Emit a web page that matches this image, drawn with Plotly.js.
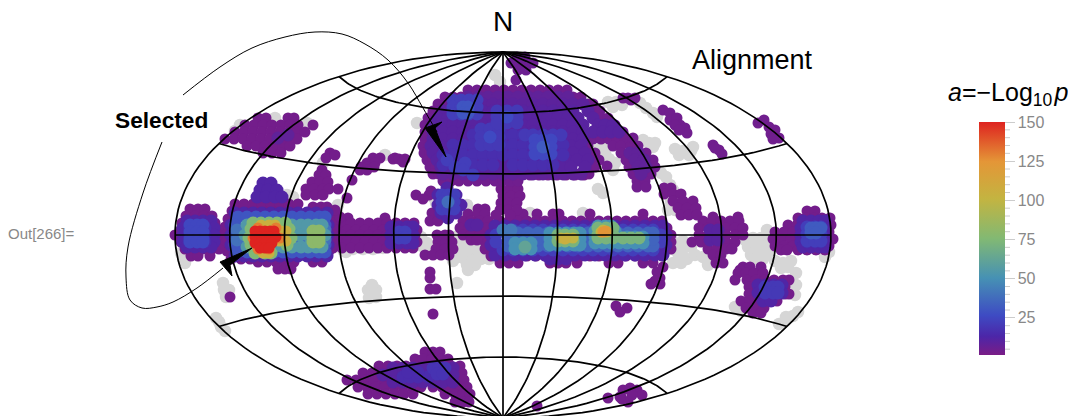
<!DOCTYPE html>
<html><head><meta charset="utf-8">
<script src="https://cdn.plot.ly/plotly-3.0.1.min.js"></script>
<style>html,body{margin:0;padding:0;background:#fff}</style></head>
<body><div id="chart" style="width:1068px;height:416px"></div>
<script>
// Sky positions are in map-plane units (centre of the map = 0,0).
// Rows: [planeY, significance a, [planeX ...]]
const tickValues = [25,50,75,100,125,150];
const minorTickValues = [5,10,15,20,30,35,40,45,55,60,65,70,80,85,90,95,105,110,115,120,130,135,140,145];
const aMin = 1.3, aMax = 150;

const unselected = [[-88,5],[-82,-2],[-76,-8],[-85,-10],[-78,-14],[-70,-18],[-47,-2],[-40,-3],[-32,-5],[-24,-3],[-16,-4],[-45,-9],[-37,-10],[-29,-11],[-21,-11],[-13,-11],[-6,-8],[-40,-17],[-32,-18],[-24,-18],[-16,-18],[-8,-15],[-38,-24],[-30,-26],[-22,-24],[-14,-24],[-35,-35],[-28,-30],[-46,-48],[-36,-30],[-42,-22],[-50,-26],
[-131,-58],[-135,-55],[-127,-55],[-134,-63],[-127,-62],[-131,-50],[-280,-48],[-279,-55],[-277,-62],[-274,-55],[-284,-87],[-282,-92],[-278,-96],[-287,-83],[-320,-22],[-318,-28],[-322,-18],
[-170,16],[-168,10],[-166,22],[-172,4],[-157,-17],[-150,-14],[-143,-12],[-160,-15],[-140,-14],[-130,-14],[-120,-13],
[172,-8],[180,-6],[172,-15],[180,-14],[188,-12],[176,-22],[184,-24],[192,-20],[170,-28],[178,-28],[205,-30],[200,-22],
[242,-5],[250,-3],[258,-3],[266,-5],[245,-12],[253,-10],[261,-12],[269,-12],[248,-20],[256,-18],[264,-19],[252,-24],[260,-24],[272,-26],[280,-28],[288,-26],[285,-32],[278,-33],[322,-22],[326,-17],[282,-86],[290,-81],[276,-89],[295,-77],[283,-82],[232,-72],[238,-76],[293,-38],[293,-50],[292,-60],
[105,133],[113,133],[119,130],[110,128],[137,132],[143,127],[150,122],[154,118],[114,105],[120,100],[126,95],[133,90],[140,95],[146,92],[152,92],[150,88],[172,86],[180,84],[188,84],[176,80],[186,80],[190,88],[95,85],[102,82],[106,76],[108,70],[110,65],[112,72],[100,90],[95,46],[100,42],[158,62],[163,58],[167,50],[170,45],[170,30],[172,25],[170,36],
[-86,112],[-76,102],[-228,117],[-263,110],[-268,104],[-196,112],[-118,80],[-180,72],[-170,25],[-165,30],[-216,40],[-210,38],[-70,38],[-67,32],[-33,23],[-28,20],[-36,30],[-3,153],[-1,142],[-8,160],[-38,15],[-36,10],[27,22],[80,22],[165,25],[168,33],[264,5]];

const bandEast = [
[21,3,[10,20,34,50,56,87,140]],
[14,3,[-3,6,15,24,33,42,51,60,69,78,87,96,105,114,123,132,141,150,159]],
[7,3,[-14,-5,4,13,22,31,40,49,58,67,76,85,94,103,112,121,130,139,148,157,164]],
[0,3,[-18,-10,160,168]],[-7,3,[-18,-10,160,168]],[-14,3,[-18,-10,160,168]],
[-21,3,[-12,-3,6,15,24,33,42,51,60,69,78,87,96,105,114,123,132,141,150,159]],
[-28,3,[-3,6,15,47,55,63,74,106,115,140,150]],
[9,12,[-8,2,12,22,32,42,52,62,72,82,92,102,112,122,132,142,152,160]],
[-20,12,[-8,2,12,22,32,42,52,62,72,82,92,102,112,122,132,142,152,160]],
[-24,12,[47,55,63]],
[0,12,[-12,163]],[-10,12,[-12,163]],
[5,22,[0,10,20,30,40,50,60,70,80,90,100,110,120,130,140,150]],
[-15,22,[0,10,20,30,40,50,60,70,80,90,100,110,120,130,140,150]],
[0,22,[-7,158]],[-7,22,[-7,158]],
[2,35,[5,15,25,35,45,55,65,75,85,95,105,115,125,135,145,150]],
[-11,35,[5,15,25,35,45,55,65,75,85,95,105,115,125,135,145,150]],
[-4,35,[5,15,25,35,45,55,65,75,85,95,105,115,125,135,145,150]],
[5,42,[0,8]],
[-8,50,[12,20,28]],[-14,50,[12,20,28]],
[2,50,[47,55,63,71,77]],[-4,50,[47,55,63,71,77]],[-10,50,[47,55,63,71,77]],
[-8,50,[92,100,108,116,124,132,140]],[-2,50,[92,100,108,116,124,132,140]],[4,50,[92,100,108,112]],[9,50,[95,102,108]],
[-12,62,[22]],
[0,72,[55,62,70]],[-6,72,[55,62,70]],
[7,72,[95,103,110]],[0,72,[95,103,110]],[-3,72,[95,103,110,120,128,136]],
[-3,100,[58,64,70]],[-4,105,[62]],[3,100,[98,104]],[5,100,[100]],[3,125,[100]],[4,122,[103]]];

const bandWest = [
[24,3,[-271,-262,-253,-244,-235,-226,-217,-208,-190,-182,-176]],
[31,3,[-268,-259,-250,-241,-232,-223,-214,-205]],
[16,3,[-275,-176,-168]],[8,3,[-278,-174]],[0,3,[-278,-174]],[-8,3,[-278,-174]],[-16,3,[-276,-174]],
[-24,3,[-272,-262,-253]],
[-27,3,[-245,-236,-227,-218,-209,-190,-181]],[-34,3,[-225,-218,-212]],
[22,12,[-268,-259,-250,-241,-232,-223,-214,-205,-196,-187,-176]],
[-21,12,[-268,-259,-250,-241,-232,-223,-214,-205,-196,-187,-176]],
[10,12,[-272,-175]],[0,12,[-272,-175]],[-10,12,[-272,-175]],
[52,12,[-240,-232]],[45,12,[-243,-235,-226]],[38,12,[-246,-237,-228,-221]],
[18,30,[-265,-256,-247,-238,-229,-220,-211,-202,-193,-184,-178]],
[-17,30,[-265,-256,-247,-238,-229,-220,-211,-202,-193,-184,-178]],
[10,30,[-268,-178]],[0,30,[-268,-178]],[-10,30,[-268,-178]],
[5,40,[-266,-258,-250,-210,-202,-194,-186,-178]],[-5,40,[-266,-258,-250,-210,-202,-194,-186,-178]],
[10,55,[-256,-247,-238,-229,-220,-211,-202,-195,-187,-181]],
[-12,55,[-256,-247,-238,-229,-220,-211,-202,-195,-187,-181]],
[0,55,[-258,-203,-195,-178]],
[12,75,[-250,-242,-234,-226,-218]],[-18,75,[-248,-238,-232]],[-3,75,[-254,-212]],[6,75,[-252,-214]],[-10,75,[-252,-216]],
[-3,80,[-190,-184]],[4,80,[-190,-184]],[-7,80,[-190,-184]],
[10,105,[-242,-234,-228]],[-18,105,[-240,-234]],[4,105,[-222,-217]],[-6,105,[-224,-217]],
[7,130,[-245,-227]],[-3,130,[-250,-223]],[-14,130,[-245,-234]],
[4,150,[-248,-243,-238,-233,-229]],[-2,150,[-248,-243,-238,-233,-227]],[-8,150,[-248,-243,-238,-231]],[-13,150,[-243,-238,-234]]];

const clusterFarWest = [
[26,3,[-313,-305,-298]],[19,3,[-317,-308,-299,-291]],[12,3,[-321,-312,-303,-295,-288]],[5,3,[-322,-285]],
[0,3,[-328,-320,-284,-278]],[-7,3,[-322,-284,-277]],[-14,3,[-318,-309,-300,-291,-284]],[-21,3,[-312,-305,-293]],
[14,12,[-316,-308,-300,-292]],[7,12,[-320,-289]],[0,12,[-320,-289]],[-7,12,[-320,-289]],[-12,12,[-316,-308,-300,-292]],
[7,15,[-314,-306,-298]],[0,15,[-314,-306,-298]],[-7,15,[-314,-306,-298]],
[10,25,[-313,-306,-300]],[3,25,[-313,-306,-300]],[-4,25,[-313,-306,-300]],[-7,25,[-313,-306,-300]]];

const bandMid = [
[17,3,[-155,-118]],
[12,3,[-170,-161,-152,-143,-134,-125,-116,-107,-98,-89]],
[5,3,[-165,-156,-147,-138,-129,-120,-111,-102,-93,-86]],
[0,3,[-170,-161,-152,-143,-134,-125,-116,-107,-98,-88]],
[-7,3,[-165,-156,-147,-138,-129,-120,-111,-102,-93,-86]],
[-13,3,[-170,-161,-152,-143,-134,-125,-116,-107,-98,-90]],
[8,12,[-112,-104,-96,-90]],[0,12,[-112,-104,-96,-90]],[-8,12,[-112,-104,-96,-90]],
[3,22,[-104,-98]],[-3,22,[-104,-98]],
[18,3,[-163]],[25,3,[-168]]];

const bandCentre = [
[22,3,[-71,-64]],[14,3,[-73,-65]],
[0,3,[-66,-58,-54]],[-7,3,[-65,-57,-51]],[-14,3,[-67,-58,-50]],[-20,3,[-78,-70,-62,-54]],
[26,3,[-25,-18]],[21,3,[-35,-25,-18]],[14,3,[-40,-32,-23,-15]],[7,3,[-43,-34,-25,-16]],[0,3,[-40,-32,-23]],[-5,3,[-32,-26]],
[10,10,[-32,-26]],
[46,3,[-2,7,15]],[39,3,[0,8,17]],[32,3,[-2,6,14]],[25,3,[-3,5,14]],[20,3,[-7,7]]];

const bandFarEast = [
[18,3,[210,235]],[14,3,[200,209,218,227,236]],[7,3,[196,205,214,223,232,240]],[0,3,[196,205,214,223,232,240]],
[-7,3,[189,198,205,214,223,232]],[-14,3,[205,214,223,229]],[-20,3,[210,218]],[-28,3,[213,220]],
[47,3,[161,168]],[41,3,[161,170,178]],[34,3,[170,180,190]],[27,3,[175,184,193]],[20,3,[178,186,194]],
[5,10,[207,215]],[-5,10,[207,215]],
[24,3,[304,312]],[17,3,[295,303,311,319,327]],[10,3,[285,294,303,312,321,328]],
[3,3,[272,281,290,299,308,317,326]],[-4,3,[270,279,288,297,306,315,324,330]],[-11,3,[272,281,290,299,308,317,326]],
[-15,3,[278,284,295,304,313,322]],
[14,12,[300,308,316,322]],[7,12,[298,322]],[0,12,[298,322]],[-7,12,[298,322]],[-12,12,[300,308,316,322]],
[7,15,[304,312,318]],[0,15,[304,312,318]],[-7,15,[304,312,318]],
[8,22,[304,312,318]],[1,22,[304,312,318]],[-6,22,[304,312,318]],
[7,32,[308,313,318]],[2,32,[308,313]]];

const patchSouthEast = [
[-32,3,[240,247,258]],[-35,3,[237]],[-38,3,[235,243,251,260]],[-45,3,[232,244,253,262,271,280,286]],
[-52,3,[246,255,264,273,282]],[-59,3,[246,255,264,273,282,286]],[-66,3,[238,247,256,265,274]],[-73,3,[243,252,261]],[-78,3,[250,258]],
[-50,12,[255,263,271,279]],[-58,12,[255,263,271,279]],[-66,12,[260,268]],
[-52,20,[262,270,275]],[-58,20,[262,270,275]]];

const patchSouth = [
[-117,3,[-78,-70,-63]],[-124,3,[-88,-80,-71,-62,-55]],
[-131,3,[-124,-115,-106,-97,-88,-79,-70,-61,-52,-43]],
[-138,3,[-140,-131,-122,-113,-104,-95,-86,-77,-68,-59,-50,-41]],
[-145,3,[-156,-147,-138,-129,-120,-111,-102,-93,-84,-75,-66,-57,-48,-39]],
[-152,3,[-145,-136,-127,-118,-109,-100,-91,-82,-70,-61,-52,-43,-36]],
[-159,3,[-135,-126,-117,-108,-99,-90,-58,-48,-40,-33]],[-167,3,[-48,-40,-34]],
[-133,10,[-110,-100,-90,-80,-70,-60,-50]],[-140,10,[-120,-110,-100,-90,-80,-70,-60,-50]],[-147,10,[-110,-100,-90,-80,-70,-60,-50]],
[-142,15,[-100,-93,-85,-75]],[-137,15,[-95,-85]],
[-133,18,[-70,-64,-58]],[-139,18,[-66,-60]]];

const patchesSmallSouth = [
[-163,3,[105]],[-164,3,[119]],[-167,3,[125]],[-155,3,[120,134]],[-153,3,[127]],[-160,3,[139,129]],[-162,3,[117]],[-171,3,[34]],
[-71,3,[113]],[-73,3,[124]],[-77,3,[117]],
[-43,3,[-73]],[-37,3,[-73]],[-54,3,[-73,-67]],[-79,3,[-70]],[-62,3,[-273]],
[-37,3,[154]],[-43,3,[157]],[-46,3,[152]],[-49,3,[148,157]],[-32,3,[160]]];

const patchNorthWest = [
[117,3,[-245,-237,-215,-209]],
[110,3,[-258,-249,-240,-231,-222,-213,-205,-190]],
[103,3,[-268,-259,-250,-241,-232,-223,-214,-205,-198]],
[96,3,[-278,-269,-260,-251,-242,-233,-224,-215,-206]],
[89,3,[-256,-247,-238,-229,-220,-213]],
[82,3,[-240,-231,-222]],
[97,8,[-225]],[100,8,[-215]]];

const patchesMidWest = [
[82,3,[-173]],[77,3,[-177]],[80,3,[-168]],[65,3,[-181]],
[60,3,[-184,-177]],[53,3,[-191,-183,-175]],[46,3,[-197,-189,-180,-174,-165]],[40,3,[-197,-188,-180]],
[37,3,[-156]],[55,3,[-151]],
[77,3,[-130,-123,-108]],[72,3,[-136,-128]],[68,3,[-142,-135,-129]],[65,3,[-143,-136]],
[76,3,[-110,-104,-98]],[73,3,[-100]],
[40,3,[-87,-74]],[36,3,[-80]],[44,3,[-72]],
[28,3,[-190,-182,-176]]];

const capEdge = [
[145,4,[-35,-26,-17,-8,1,10,19,28,37,46,55,64]],
[138,4,[-58,-50,-42,70,78]],[131,4,[-65,-58,85,90]],[124,4,[-70,-64,92,97]],[117,4,[-75,-70,98,105]],
[110,4,[-78,-72,104,112]],[103,4,[-78,-72,112,120]],[96,4,[-78,-72,84,90,98,106,114,122]],[89,4,[-80,-74,85]],
[82,4,[-79,-73,92]],[75,4,[-76,-70,96]],[68,4,[-73,-67,92]],[61,4,[-70,-64,86]],
[60,4,[27,36,45,54,63,72,81]],
[54,4,[-60,-52,-44,-35,-26,-17,-8,0,8,15]],
[69,4,[104]],
[89,4,[110,118,128,135]],[82,4,[118,126,135,143]],[75,4,[123,132,141,150]],[68,4,[126,134,143,152]],
[61,4,[130,139,148]],[54,4,[134,142]],[48,4,[134,143]],[97,4,[130]],
[178,5,[14,22]],[172,5,[8,15,24,30]],[165,5,[15,23]],[155,5,[13]],
[137,4,[120,125,132]],[135,4,[128]],
[125,4,[160]],[122,4,[167]],[115,4,[167]],[117,4,[174]],[110,4,[177,172]],[107,4,[182]],[102,4,[184]],[105,4,[176]],
[112,4,[255]],[115,4,[261]],[108,4,[266]],[105,4,[272]],[101,4,[268]],[97,4,[276]],[96,4,[270]],
[90,4,[210]],[85,4,[216]],[81,4,[219]],[87,4,[212]]];

const capInner = [
[138,8,[-35,-25,-15,-5,5,15,25,35,45,55,65]],
[131,9,[-50,-40,-30,-20,-10,0,10,20,30,40,50,60,70,80]],
[124,10,[-60,-50,-40,-30,-20,-10,0,10,20,30,40,50,60,70,85]],
[117,10,[-65,-55,-45,-35,-25,-15,-5,5,15,25,35,45,55,65,75,90]],
[110,10,[-70,-60,-50,-40,-30,-20,-10,0,10,20,30,40,50,60,70,80,95,102,110]],
[103,10,[-70,-60,-50,-40,-30,-20,-10,0,10,20,30,40,50,60,70,80,90,100,108,116]],
[96,10,[-70,-60,-50,-40,-30,-20,-10,0,10,20,30,40,50,60,70,80]],
[89,10,[-72,-62,-52,-42,-32,-22,-12,-2,8,18,28,38,48,58,68,78]],
[82,10,[-70,-60,-50,-40,-30,-20,-10,0,10,20,30,40,50,60,70,82]],
[75,10,[-66,-56,-46,-36,-26,-16,-6,4,14,24,34,44,54,64,74,85]],
[68,10,[-62,-52,-42,-32,-22,-12,-2,8,18,28,38,48,58,68,82]],
[61,8,[-60,-50,-40,-30,-20,-10,0,10,20,30,40,50,60,70,78]],
[82,8,[127,135]],[75,8,[132,141]],[68,8,[135,143]],[61,8,[138]],
[100,16,[-30,-20,-10,0,10,20,30,40,50]],
[90,16,[-50,-40,-30,-20,-10,0,10,20,30,40,50,60]],
[80,16,[-60,-50,-40,-30,-20,-10,0,10,20,30,40,50,60]],
[70,16,[-60,-50,-40,-30,-20,-10,10,20,30,40,50]],
[135,22,[-50,-42,-34,-26]],[128,22,[-50,-42,-34,-26]],[121,22,[-50,-42,-34,-26]],[128,30,[-40,-35]],[122,30,[-40,-35]],
[106,20,[-22,-13,-4]],[98,20,[-22,-13,-4]],[90,20,[-22,-13,-4]],[98,26,[-13]],
[100,20,[22,30,40,50,58]],[95,25,[32,40,48]],[88,25,[32,48]],[81,25,[32,40,48]],[88,32,[40]],
[124,20,[-6,4,14]],[118,20,[-6,14]],[112,20,[-6,4,14]],[118,26,[4]],
[75,22,[-56]],[68,22,[-48]],[72,22,[-38]],[65,22,[-40]],[60,22,[-30]],
[47,12,[-56]],[40,12,[-65,-47]],[30,12,[-65,-42]],[22,12,[-62,-47]],[17,12,[-55]],
[40,22,[-61,-55,-49]],[33,22,[-61,-49]],[26,22,[-61,-55,-49]],[33,38,[-55]]];

const significant = [bandEast,bandWest,clusterFarWest,bandMid,bandCentre,bandFarEast,patchSouthEast,patchSouth,patchesSmallSouth,patchNorthWest,patchesMidWest,capEdge,capInner];

const annotationCurveA = {x:[-320,-283,-251,-218,-188,-161,-138,-115,-95,-80,-66], y:[140,168,187,198,203,201,191,175,152,127,103]};
const annotationCurveB = {x:[-341,-360,-375,-377,-373,-361,-346,-330,-306,-280], y:[93,42,-12,-42,-65,-73,-72,-67,-53,-33]};
const headA = {x:[-57,-78,-61,-68,-57], y:[78,107,113,107,78]};
const headB = {x:[-251,-283,-271,-273,-251], y:[-13,-27,-41,-30,-13]};

const A = 328, B = 183;
function aitoff(lon, lat){
  const l = lon*Math.PI/180, p = lat*Math.PI/180;
  const al = Math.acos(Math.cos(p)*Math.cos(l/2));
  const k = al < 1e-9 ? 1 : al/Math.sin(al);
  return [A*(2*k*Math.cos(p)*Math.sin(l/2))/Math.PI, B*(k*Math.sin(p))/(Math.PI/2)];
}
const gx = [], gy = [];
for (let lon=-180; lon<=180; lon+=30){
  for (let lat=-90; lat<=90; lat+=2){ const q=aitoff(lon,lat); gx.push(q[0]); gy.push(q[1]); }
  gx.push(null); gy.push(null);
}
[-60,-30,0,30,60].forEach(function(lat){
  for (let lon=-180; lon<=180; lon+=3){ const q=aitoff(lon,lat); gx.push(q[0]); gy.push(q[1]); }
  gx.push(null); gy.push(null);
});

const pts = [];
significant.forEach(function(region){
  region.forEach(function(r){ r[2].forEach(function(x){ pts.push([x,r[0],r[1]]); }); });
});
pts.sort(function(p,q){ return p[2]-q[2]; });
const discSize = v => v <= 5 ? 11 : (v < 100 ? 13 : 11);

const barTop = 122, barH = 233, barX = 979, barW = 26;
const valueToPaper = function(v){ return 1-(barTop+(aMax-v)/(aMax-aMin)*barH)/416; };

const traces = [
 {type:'scatter',mode:'markers',x:unselected.map(p=>p[0]),y:unselected.map(p=>p[1]),
  marker:{size:12.5,color:'#d6d6d6',opacity:1,line:{width:0}},hoverinfo:'skip'},
 {type:'scatter',mode:'markers',x:pts.map(p=>p[0]),y:pts.map(p=>p[1]),
  marker:{size:pts.map(p=>discSize(p[2])),opacity:1,color:pts.map(p=>p[2]),cmin:aMin,cmax:aMax,line:{width:0},
   colorscale:[[0,'rgb(122,28,134)'],[0.08,'rgb(76,38,168)'],[0.17,'rgb(62,75,195)'],[0.33,'rgb(70,145,180)'],[0.5,'rgb(130,185,115)'],[0.67,'rgb(195,180,65)'],[0.83,'rgb(228,150,55)'],[1,'rgb(222,35,32)']],
   colorbar:{x:barX/1068,xanchor:'left',y:valueToPaper(aMax),yanchor:'top',len:barH,lenmode:'pixels',thickness:barW,thicknessmode:'pixels',
    xpad:0,ypad:0,outlinewidth:0,tickvals:tickValues,ticktext:tickValues.map(String),ticks:'outside',ticklen:10,tickwidth:1,tickcolor:'#ccc',
    tickfont:{family:'Liberation Sans',size:16,color:'#888'}}},
  hoverinfo:'skip'},
 {type:'scatter',mode:'lines',x:gx,y:gy,line:{color:'#000',width:1.7},hoverinfo:'skip',connectgaps:false},
 {type:'scatter',mode:'lines',x:annotationCurveA.x,y:annotationCurveA.y,line:{color:'#000',width:1,shape:'spline'},hoverinfo:'skip'},
 {type:'scatter',mode:'lines',x:annotationCurveB.x,y:annotationCurveB.y,line:{color:'#000',width:1,shape:'spline'},hoverinfo:'skip'},
 {type:'scatter',mode:'lines',x:headA.x,y:headA.y,fill:'toself',fillcolor:'#000',line:{color:'#000',width:1},hoverinfo:'skip'},
 {type:'scatter',mode:'lines',x:headB.x,y:headB.y,fill:'toself',fillcolor:'#000',line:{color:'#000',width:1},hoverinfo:'skip'}
];

const font = 'Liberation Sans';
const note = (t,x,y,size,extra) => Object.assign({text:t,x:x,y:y,xref:'x',yref:'y',showarrow:false,font:{family:font,size:size,color:'#000'}},extra||{});
const layout = {
 width:1068,height:416,margin:{l:0,r:0,t:0,b:0,pad:0},paper_bgcolor:'#fff',plot_bgcolor:'#fff',showlegend:false,hovermode:false,
 xaxis:{range:[-503,565],visible:false,fixedrange:true},
 yaxis:{range:[-181,235],visible:false,fixedrange:true},
 annotations:[
  note('N',0,214,28),
  note('Alignment',249,175,27),
  note('<b>Selected</b>',-342,115,22.7),
  note('Out[266]=',-462,2,15,{font:{family:font,size:15,color:'#888'}}),
  note('<i>a</i>=−Log<sub>10</sub>\u200A<i>p</i>',505,141,25)
 ],
 shapes:minorTickValues.map(v=>({type:'line',xref:'paper',yref:'paper',x0:(barX+barW)/1068,x1:(barX+barW+5)/1068,y0:valueToPaper(v),y1:valueToPaper(v),line:{color:'#ccc',width:1}}))
};
Plotly.newPlot('chart',traces,layout,{displayModeBar:false,staticPlot:true});
</script></body></html>
